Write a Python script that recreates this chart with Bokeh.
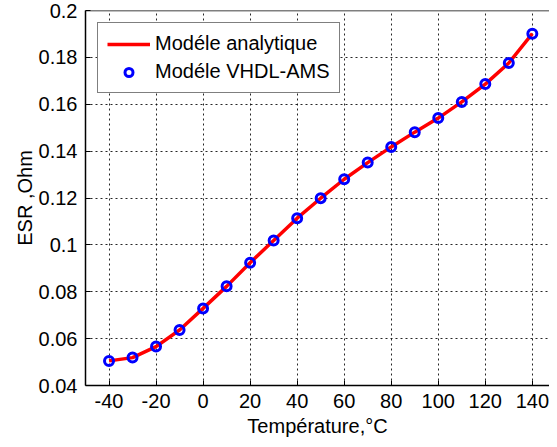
from bokeh.plotting import figure
from bokeh.models import FixedTicker, Span, Legend, LegendItem, Range1d
from bokeh.embed import file_html
from bokeh.resources import INLINE

# Data
temperature = [-40, -30, -20, -10, 0, 10, 20, 30, 40, 50, 60, 70, 80, 90, 100, 110, 120, 130, 140]
esr_analytique = [0.0505, 0.0519, 0.0566, 0.0637, 0.0729, 0.0823, 0.0924, 0.1019, 0.1114, 0.1199,
                  0.1280, 0.1351, 0.1418, 0.1481, 0.1541, 0.1610, 0.1686, 0.1776, 0.1901]
esr_vhdl = [0.0505, 0.0519, 0.0566, 0.0637, 0.0729, 0.0823, 0.0924, 0.1019, 0.1114, 0.1199,
            0.1280, 0.1351, 0.1418, 0.1481, 0.1541, 0.1610, 0.1686, 0.1776, 0.1901]
x_ticks = [-40, -20, 0, 20, 40, 60, 80, 100, 120, 140]
y_ticks = [0.04, 0.06, 0.08, 0.1, 0.12, 0.14, 0.16, 0.18, 0.2]

FONT = "Liberation Sans"
FS = "20px"

p = figure(frame_width=464, frame_height=375, output_backend="svg", toolbar_location=None,
           x_range=Range1d(-50, 147.3), y_range=Range1d(0.04, 0.2),
           min_border_left=85, min_border_top=10, min_border_right=0, min_border_bottom=0)
p.outline_line_color = None
p.background_fill_color = "white"
p.border_fill_color = "white"

for ax in (p.xaxis[0], p.yaxis[0]):
    ax.major_label_text_font = FONT
    ax.major_label_text_font_size = FS
    ax.major_label_text_color = "black"
    ax.axis_label_text_font = FONT
    ax.axis_label_text_font_size = FS
    ax.axis_label_text_font_style = "normal"
    ax.axis_label_text_color = "black"
    ax.axis_line_color = "black"
    ax.axis_line_width = 1.5
    ax.major_tick_in = 5
    ax.major_tick_out = 0
    ax.major_tick_line_color = "black"
    ax.minor_tick_line_color = None
    ax.major_label_standoff = 8
    ax.axis_label_standoff = 4
p.yaxis.axis_label_standoff = 0

p.xaxis.ticker = FixedTicker(ticks=x_ticks)
p.yaxis.ticker = FixedTicker(ticks=y_ticks)
p.xaxis.major_label_overrides = {t: str(t) for t in x_ticks}
p.yaxis.major_label_overrides = {t: f"{t:g}" for t in y_ticks}
p.xaxis.axis_label = "Température,°C"
p.yaxis.axis_label = "ESR ,Ohm"

for g in (p.xgrid[0], p.ygrid[0]):
    g.grid_line_color = "black"
    g.grid_line_dash = "2 3"
    g.grid_line_width = 1
    g.grid_line_alpha = 0.85
p.xgrid.ticker = FixedTicker(ticks=x_ticks)
p.ygrid.ticker = FixedTicker(ticks=y_ticks)

p.add_layout(Span(location=0.2, dimension="width", line_color="black", line_width=1.5))

r_line = p.line(temperature, esr_analytique, line_color="red", line_width=3.5)
r_pts = p.scatter(temperature, esr_vhdl, marker="circle", size=9, fill_color=None,
                  line_color="blue", line_width=3)

legend = Legend(items=[LegendItem(label="Modéle analytique", renderers=[r_line]),
                       LegendItem(label="Modéle VHDL-AMS", renderers=[r_pts])],
                location="top_left")
legend.label_text_font = FONT
legend.label_text_font_size = FS
legend.label_text_color = "black"
legend.border_line_color = "black"
legend.border_line_width = 1.5
legend.background_fill_alpha = 1
legend.margin = 12
legend.padding = 9
legend.spacing = 5
legend.glyph_width = 43
legend.glyph_height = 20
legend.label_height = 20
legend.label_standoff = 5
p.add_layout(legend)

open("out.html", "w").write(file_html(p, INLINE))
